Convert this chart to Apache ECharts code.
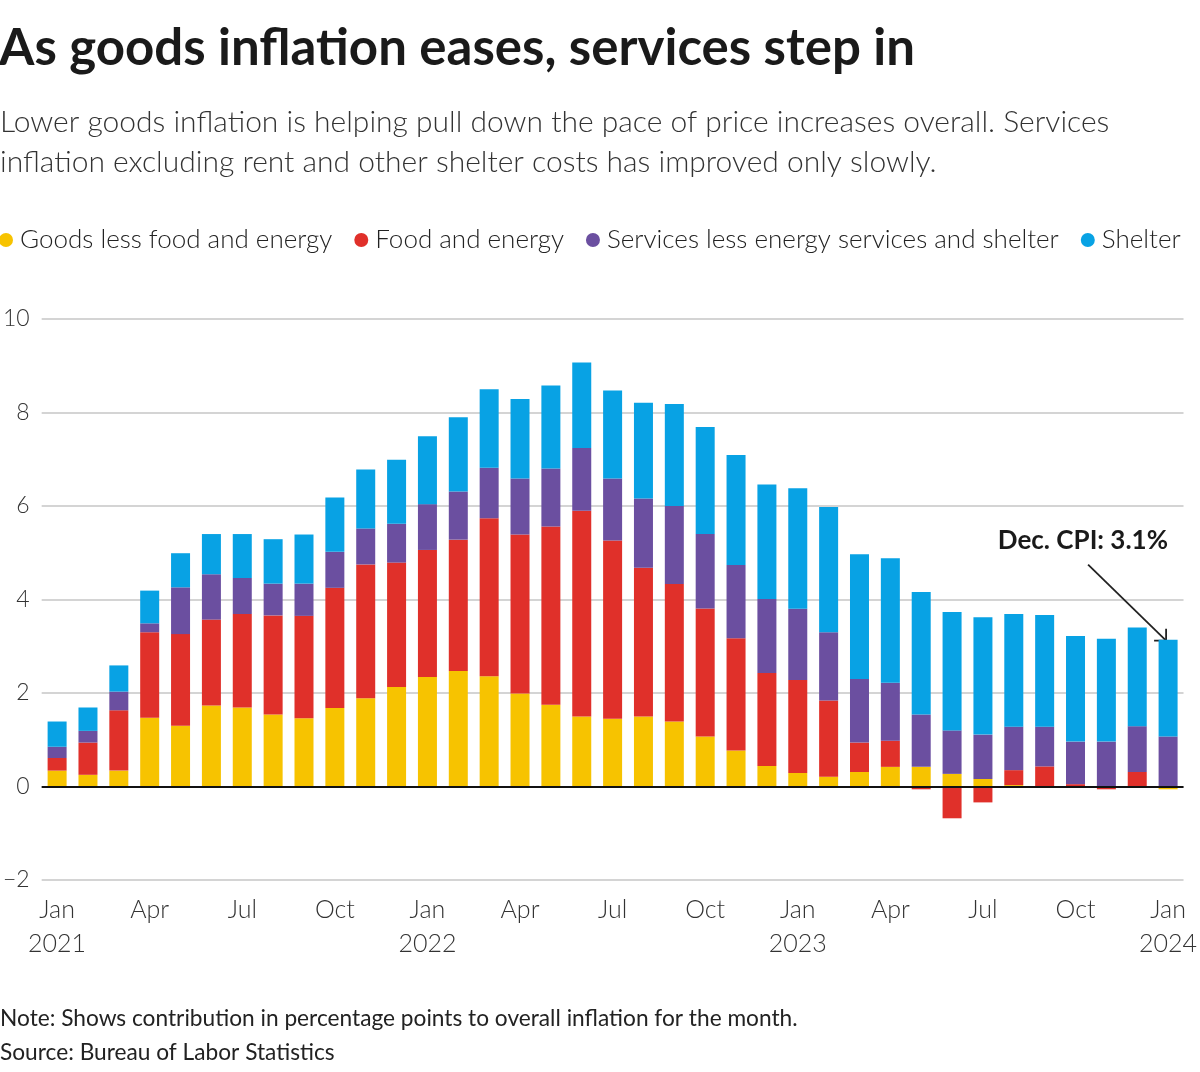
<!DOCTYPE html>
<html>
<head>
<meta charset="utf-8">
<script src="https://cdn.jsdelivr.net/npm/echarts@6/dist/echarts.min.js"></script>
<style>
  html, body { margin: 0; padding: 0; background: #fff; }
  #chart { width: 1200px; height: 1072px; }
</style>
</head>
<body>
<div id="chart"></div>
<script>
// 月份 (Jan 2021 - Jan 2024)
const months = ['Jan','Feb','Mar','Apr','May','Jun','Jul','Aug','Sep','Oct','Nov','Dec'];
const categories = [];
for (let y = 2021; y <= 2024; y++) {
  for (let m = 0; m < 12; m++) {
    if (y === 2024 && m > 0) break;
    categories.push(months[m] + ' ' + y);
  }
}

// contributions, percentage points
const goods = [0.34, 0.25, 0.34, 1.47, 1.30, 1.73, 1.69, 1.54, 1.46, 1.68, 1.89, 2.13,
  2.34, 2.47, 2.36, 1.99, 1.75, 1.50, 1.45, 1.50, 1.39, 1.07, 0.77, 0.44,
  0.29, 0.21, 0.31, 0.42, 0.42, 0.27, 0.16, 0.03, 0.00, 0.00, 0.00, 0.00,
  -0.06];
const foodEnergy = [0.27, 0.69, 1.29, 1.83, 1.96, 1.84, 2.00, 2.12, 2.19, 2.57, 2.86, 2.66,
  2.72, 2.81, 3.38, 3.40, 3.81, 4.40, 3.81, 3.18, 2.94, 2.74, 2.40, 1.99,
  1.99, 1.63, 0.63, 0.56, -0.06, -0.68, -0.34, 0.32, 0.43, 0.05, -0.06, 0.31,
  0.00];
const services = [0.24, 0.25, 0.40, 0.19, 1.00, 0.97, 0.77, 0.68, 0.69, 0.77, 0.77, 0.83,
  0.98, 1.03, 1.08, 1.20, 1.24, 1.34, 1.33, 1.48, 1.67, 1.59, 1.57, 1.58,
  1.52, 1.46, 1.36, 1.24, 1.12, 0.93, 0.95, 0.93, 0.85, 0.91, 0.96, 0.98,
  1.07];
const shelter = [0.54, 0.50, 0.56, 0.70, 0.73, 0.86, 0.94, 0.95, 1.05, 1.16, 1.26, 1.37,
  1.45, 1.59, 1.68, 1.70, 1.78, 1.83, 1.88, 2.05, 2.18, 2.29, 2.35, 2.45,
  2.58, 2.68, 2.67, 2.66, 2.62, 2.53, 2.51, 2.41, 2.39, 2.26, 2.20, 2.11,
  2.07];

const seriesNames = ['Goods less food and energy', 'Food and energy', 'Services less energy services and shelter', 'Shelter'];
const colors = ['#f7c300', '#e0302a', '#6b4fa0', '#08a2e4'];

const FONT = 'Lato, "Noto Sans", sans-serif';

const myChart = echarts.init(document.getElementById('chart'));

let seriesData = [goods, foodEnergy, services, shelter];
let series = seriesNames.map((name, i) => ({
  name: name,
  type: 'bar',
  stack: 'total',
  barWidth: 19,
  data: seriesData[i],
  itemStyle: { color: colors[i] }
}));
// 零线
series[3].markLine = {
  silent: true,
  symbol: 'none',
  label: { show: false },
  lineStyle: { color: '#111', width: 2, type: 'solid' },
  data: [{ yAxis: 0 }]
};

const option = {
  animation: false,
  color: colors,
  title: [
    {
      text: 'As goods inflation eases, services step in',
      left: -1, top: 23, padding: 0,
      textStyle: { fontFamily: FONT, fontWeight: 'bold', fontSize: 51, color: '#1a1a1a' }
    },
    {
      text: 'Lower goods inflation is helping pull down the pace of price increases overall. Services\ninflation excluding rent and other shelter costs has improved only slowly.',
      left: 0, top: 102, padding: 0,
      textStyle: { fontFamily: FONT, fontWeight: 300, fontSize: 30, lineHeight: 40, color: '#333' }
    },
    {
      text: 'Note: Shows contribution in percentage points to overall inflation for the month.\nSource: Bureau of Labor Statistics',
      left: 0, top: 1002, padding: 0,
      textStyle: { fontFamily: FONT, fontWeight: 'normal', fontSize: 22.7, lineHeight: 34, color: '#222' }
    }
  ],
  legend: {
    left: -1, top: 227, padding: 0,
    icon: 'circle', itemWidth: 14, itemHeight: 14, itemGap: 22,
    data: seriesNames,
    textStyle: { fontFamily: FONT, fontWeight: 300, fontSize: 26, color: '#222', padding: [0, 0, 0, 2] }
  },
  grid: { left: 39, right: 12, top: 319, bottom: 192, containLabel: false },
  xAxis: {
    type: 'category',
    data: categories,
    axisLine: { show: false, onZero: false },
    axisTick: { show: false },
    axisLabel: {
      interval: 2,
      margin: 13,
      fontFamily: FONT, fontWeight: 300, fontSize: 25, lineHeight: 34, color: '#333',
      formatter: function (val) {
        let p = val.split(' ');
        return p[0] === 'Jan' ? p[0] + '\n' + p[1] : p[0];
      }
    }
  },
  yAxis: {
    type: 'value',
    min: -2, max: 10, interval: 2,
    axisLine: { show: false },
    axisTick: { show: false },
    splitLine: { lineStyle: { color: '#c6c6c6', width: 1.5 } },
    axisLabel: {
      margin: 12,
      fontFamily: FONT, fontWeight: 300, fontSize: 23, color: '#333',
      formatter: function (v) { return v < 0 ? '\u2212' + Math.abs(v) : v; }
    }
  },
  series: series
};
myChart.setOption(option);

// 注释箭头: 指向最后一根柱子顶部
const last = categories.length - 1;
const lastTop = [goods, foodEnergy, services, shelter].reduce((s, arr) => s + Math.max(arr[last], 0), 0);
const tip = myChart.convertToPixel({ gridIndex: 0 }, [last, lastTop]);
tip[0] -= 2; tip[1] += 1;
const start = [tip[0] - 78, tip[1] - 76];
const arm = 12;
myChart.setOption({
  graphic: [
    {
      type: 'text',
      right: 1200 - 1168, top: 528,
      style: { text: 'Dec. CPI: 3.1%', font: 'bold 26px ' + FONT, fill: '#1a1a1a' }
    },
    {
      type: 'line',
      shape: { x1: start[0], y1: start[1], x2: tip[0], y2: tip[1] },
      style: { stroke: '#222', lineWidth: 1.8 }
    },
    {
      type: 'polyline',
      shape: { points: [[tip[0] - arm, tip[1]], tip, [tip[0], tip[1] - arm]] },
      style: { stroke: '#222', lineWidth: 1.8, fill: null }
    }
  ]
});
</script>
</body>
</html>
